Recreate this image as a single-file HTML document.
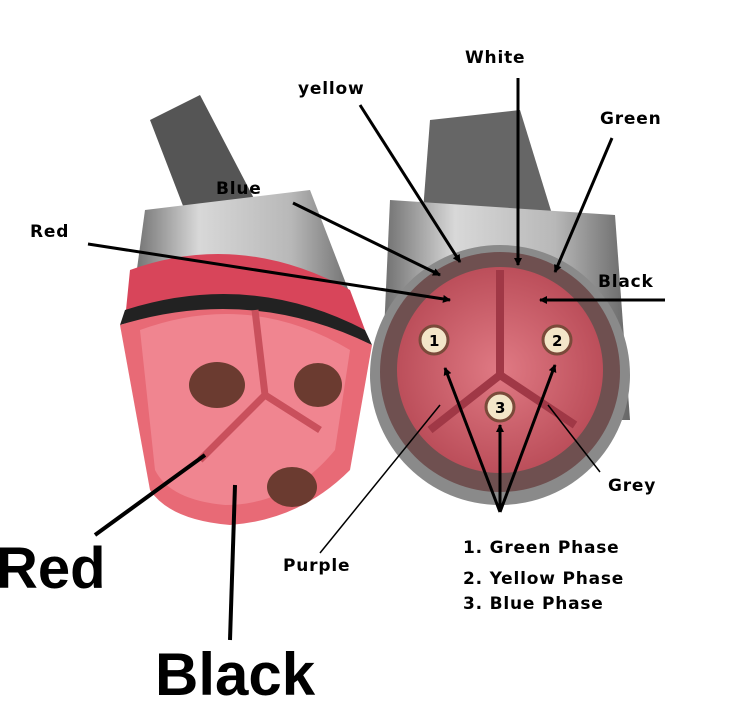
<!DOCTYPE html>
<html><head><style>
html,body{margin:0;padding:0;background:#fff;width:750px;height:719px;overflow:hidden}
text{font-family:"DejaVu Sans","Liberation Sans",sans-serif;font-weight:bold}
.s{font-size:17px;letter-spacing:0.8px}
.b{font-family:"Liberation Sans",sans-serif}
</style></head><body>
<svg width="750" height="719" viewBox="0 0 750 719" xmlns="http://www.w3.org/2000/svg">
<defs>
<marker id="a" markerWidth="8" markerHeight="8" refX="7" refY="4" orient="auto" markerUnits="userSpaceOnUse"><path d="M0,0 L8,4 L0,8 z" fill="#000"/></marker>
<radialGradient id="pk" cx="50%" cy="50%" r="55%"><stop offset="0" stop-color="#e07a84"/><stop offset="1" stop-color="#b84a56"/></radialGradient>
<linearGradient id="cyl" x1="0" x2="1"><stop offset="0" stop-color="#6a6a6a"/><stop offset="0.3" stop-color="#d8d8d8"/><stop offset="0.7" stop-color="#b8b8b8"/><stop offset="1" stop-color="#666"/></linearGradient>
</defs>
<path d="M150,120 L200,95 L260,210 L200,250 Z" fill="#555"/>
<path d="M145,210 L310,190 L360,320 L130,320 Z" fill="url(#cyl)"/>
<path d="M130,270 Q240,230 350,290 L365,330 Q250,280 125,320 Z" fill="#d8455a"/>
<path d="M125,310 Q250,270 365,330 L372,345 Q250,290 120,325 Z" fill="#222"/>
<path d="M120,325 Q250,285 372,345 L350,470 Q300,520 230,525 Q170,520 150,490 Z" fill="#e86a76"/>
<path d="M140,330 Q250,290 350,350 L335,450 Q290,505 225,505 Q170,500 155,470 Z" fill="#f08590"/>
<path d="M255,310 L265,395 L200,460 M265,395 L320,430" stroke="#c9505c" stroke-width="7" fill="none"/>
<ellipse cx="217" cy="385" rx="28" ry="23" fill="#6b3b30"/>
<ellipse cx="318" cy="385" rx="24" ry="22" fill="#6b3b30"/>
<ellipse cx="292" cy="487" rx="25" ry="20" fill="#6b3b30"/>
<path d="M430,120 L520,110 L560,240 L420,250 Z" fill="#666"/>
<path d="M390,200 L615,215 L630,420 L380,420 Z" fill="url(#cyl)"/>
<circle cx="500" cy="375" r="130" fill="#8a8a8a"/>
<circle cx="500" cy="372" r="120" fill="#6f5050"/>
<circle cx="500" cy="370" r="103" fill="url(#pk)"/>
<path d="M500,270 L500,375 L430,430 M500,375 L575,425" stroke="#a03846" stroke-width="8" fill="none"/>
<circle cx="434" cy="340" r="14" fill="#f3e6c8" stroke="#7a4a3a" stroke-width="3"/>
<circle cx="557" cy="340" r="14" fill="#f3e6c8" stroke="#7a4a3a" stroke-width="3"/>
<circle cx="500" cy="407" r="14" fill="#f3e6c8" stroke="#7a4a3a" stroke-width="3"/>
<text x="429" y="346" font-size="15">1</text>
<text x="552" y="346" font-size="15">2</text>
<text x="495" y="413" font-size="15">3</text>
<g stroke="#000" stroke-width="3" fill="none" marker-end="url(#a)">
<line x1="518" y1="78" x2="518" y2="265"/>
<line x1="360" y1="105" x2="460" y2="262"/>
<line x1="612" y1="138" x2="555" y2="272"/>
<line x1="293" y1="203" x2="440" y2="275"/>
<line x1="88" y1="244" x2="450" y2="300"/>
<line x1="665" y1="300" x2="540" y2="300"/>
<line x1="500" y1="512" x2="445" y2="368"/>
<line x1="500" y1="512" x2="500" y2="425"/>
<line x1="500" y1="512" x2="555" y2="365"/>
</g>
<g stroke="#000" stroke-width="1.5">
<line x1="600" y1="472" x2="548" y2="405"/>
<line x1="320" y1="553" x2="440" y2="405"/>
</g>
<g stroke="#000" stroke-width="4">
<line x1="95" y1="535" x2="205" y2="455"/>
<line x1="230" y1="640" x2="235" y2="485"/>
</g>
<text class="s" x="465" y="63">White</text>
<text class="s" x="298" y="94">yellow</text>
<text class="s" x="600" y="124">Green</text>
<text class="s" x="216" y="194">Blue</text>
<text class="s" x="30" y="237">Red</text>
<text class="s" x="598" y="287">Black</text>
<text class="s" x="608" y="491">Grey</text>
<text class="s" x="283" y="571">Purple</text>
<text class="s" x="463" y="553">1. Green Phase</text>
<text class="s" x="463" y="584">2. Yellow Phase</text>
<text class="s" x="463" y="609">3. Blue Phase</text>
<text class="b" x="-4" y="588" font-size="58">Red</text>
<text class="b" x="155" y="695" font-size="60">Black</text>
</svg>
</body></html>
